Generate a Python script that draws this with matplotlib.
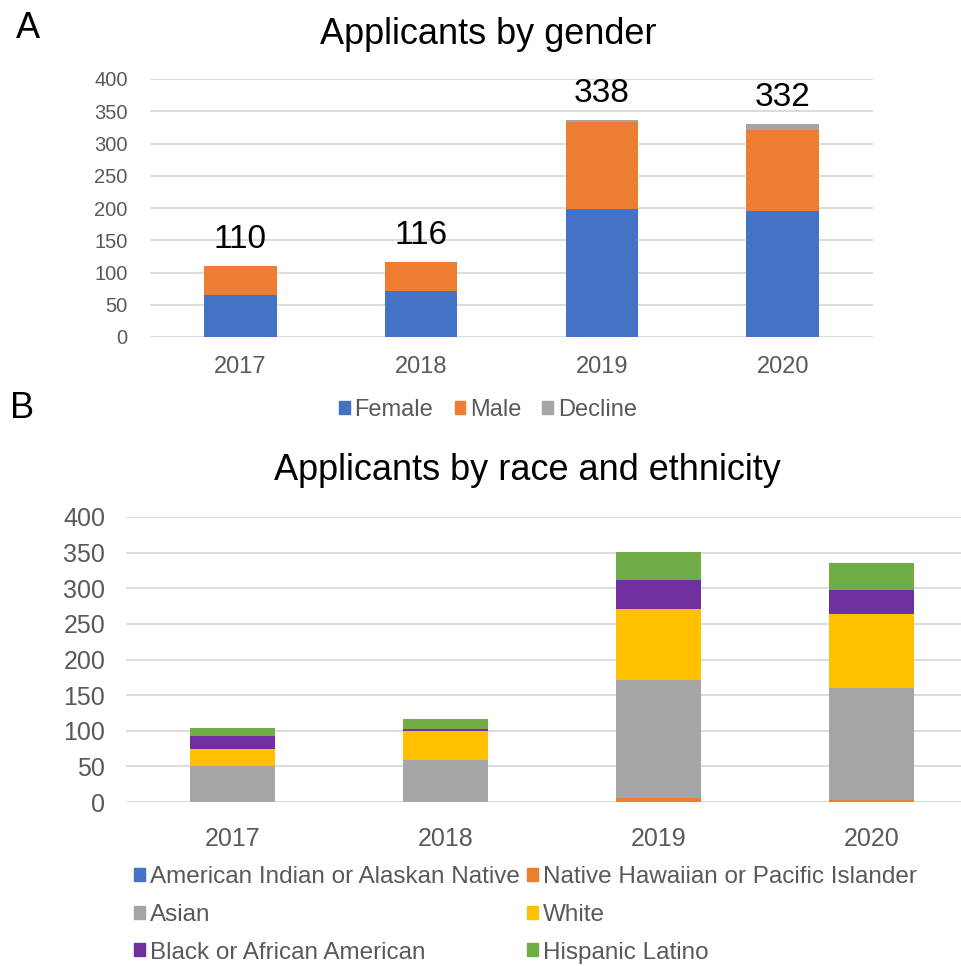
import numpy as np
import matplotlib.pyplot as plt
from matplotlib.patches import Patch

plt.rcParams['font.family'] = ['Liberation Sans', 'DejaVu Sans']

years = ["2017", "2018", "2019", "2020"]

# panel A: applicants by gender
gender_labels = ["Female", "Male", "Decline"]
female = [65, 72, 199, 196]
male = [45, 44, 135, 125]
decline = [0, 0, 3, 9]
gender_totals = [110, 116, 338, 332]

# panel B: applicants by race and ethnicity
race_labels = ["American Indian or Alaskan Native", "Native Hawaiian or Pacific Islander",
               "Asian", "White", "Black or African American", "Hispanic Latino"]
am_indian = [0, 0, 0, 0]
hawaiian = [0, 0, 6, 3]
asian = [50, 59, 165, 157]
white = [25, 40, 100, 104]
black = [18, 3, 40, 34]
hispanic = [11, 15, 40, 37]

gender_colors = ["#4472C4", "#ED7D31", "#A5A5A5"]
race_colors = ["#4472C4", "#ED7D31", "#A5A5A5", "#FFC000", "#7030A0", "#70AD47"]

W, H = 961, 966
fig = plt.figure(figsize=(W / 100, H / 100), dpi=100)

tick_color = "#595959"
grid_color = "#D9D9D9"


def style_axes(ax, ytick_size, xtick_size, ypad, xpad):
    ax.set_ylim(0, 400)
    ax.set_yticks(np.arange(0, 401, 50))
    ax.set_xlim(-0.5, 3.5)
    ax.set_xticks(range(len(years)))
    ax.set_xticklabels(years)
    ax.grid(axis="y", color=grid_color, linewidth=1.3)
    ax.set_axisbelow(True)
    for s in ax.spines.values():
        s.set_visible(False)
    ax.tick_params(axis="y", length=0, labelsize=ytick_size, labelcolor=tick_color, pad=ypad)
    ax.tick_params(axis="x", length=0, labelsize=xtick_size, labelcolor=tick_color, pad=xpad)


# ---- panel A ----
axA = fig.add_axes([150 / W, 1 - 337 / H, 723 / W, 258 / H])
x = np.arange(len(years))
bottom = np.zeros(len(years))
for vals, lab, col in zip([female, male, decline], gender_labels, gender_colors):
    axA.bar(x, vals, width=0.4, bottom=bottom, color=col, label=lab)
    bottom += np.array(vals)
style_axes(axA, 14.5, 17, 16, 14)
for xi, top, tot in zip(x, bottom, gender_totals):
    axA.annotate(str(tot), (xi, top), xytext=(0, 13), textcoords="offset points",
                 ha="center", va="baseline", fontsize=24, color="black")

handlesA = [Patch(color=c, label=l) for c, l in zip(gender_colors, gender_labels)]
fig.legend(handles=handlesA, loc="center", bbox_to_anchor=(488 / W, 1 - 410 / H),
           ncol=3, frameon=False, fontsize=17, handlelength=0.45, handleheight=0.45,
           handletextpad=0.2, columnspacing=0.9, labelcolor=tick_color)

fig.text(488 / W, 1 - 35 / H, "Applicants by gender", ha="center", va="center", fontsize=26)
fig.text(28 / W, 1 - 29 / H, "A", ha="center", va="center", fontsize=26)

# ---- panel B ----
axB = fig.add_axes([126 / W, 1 - 802 / H, 852 / W, 285 / H])
bottom = np.zeros(len(years))
for vals, lab, col in zip([am_indian, hawaiian, asian, white, black, hispanic], race_labels, race_colors):
    axB.bar(x, vals, width=0.4, bottom=bottom, color=col, label=lab)
    bottom += np.array(vals)
style_axes(axB, 18, 18, 15, 18)

fig.text(527 / W, 1 - 470 / H, "Applicants by race and ethnicity", ha="center", va="center", fontsize=26)
fig.text(22 / W, 1 - 408 / H, "B", ha="center", va="center", fontsize=26)

# legend filled row by row like the original
order = [0, 2, 4, 1, 3, 5]
handlesB = [Patch(color=race_colors[i], label=race_labels[i]) for i in order]
fig.legend(handles=handlesB, loc="upper left", bbox_to_anchor=(134 / W, 1 - 866 / H),
           ncol=2, frameon=False, fontsize=17.5, handlelength=0.45, handleheight=0.45,
           handletextpad=0.2, columnspacing=0.3, labelspacing=0.65, labelcolor=tick_color,
           borderpad=0, borderaxespad=0)

fig.savefig("out.png", dpi=100)
